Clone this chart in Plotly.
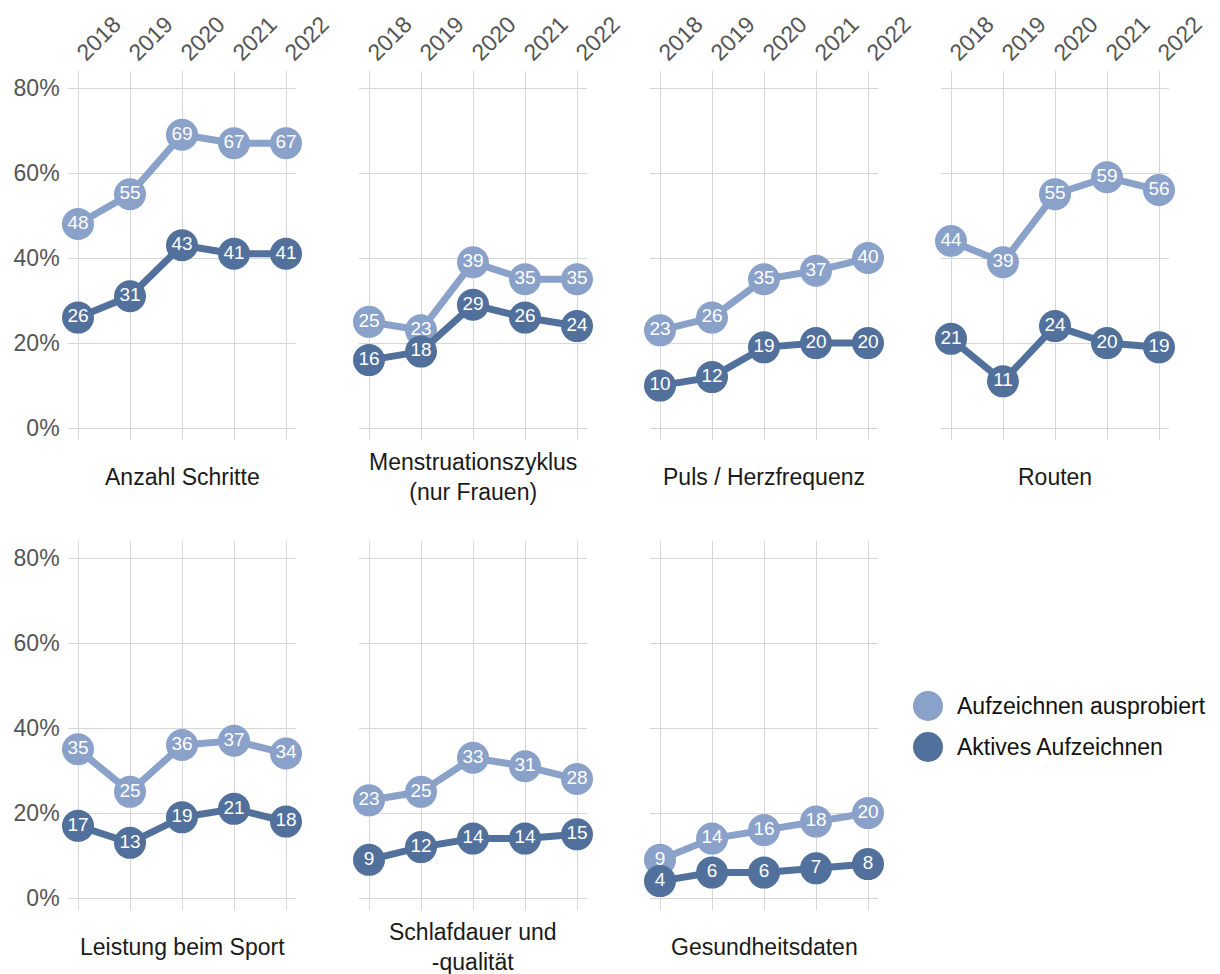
import plotly.graph_objects as go

years = [2018, 2019, 2020, 2021, 2022]
year_labels = ["2018", "2019", "2020", "2021", "2022"]

panel_titles = [
    "Anzahl Schritte",
    "Menstruationszyklus<br>(nur Frauen)",
    "Puls / Herzfrequenz",
    "Routen",
    "Leistung beim Sport",
    "Schlafdauer und<br>-qualität",
    "Gesundheitsdaten",
]

# Aufzeichnen ausprobiert (%)
probiert_schritte = [48, 55, 69, 67, 67]
probiert_menstruation = [25, 23, 39, 35, 35]
probiert_puls = [23, 26, 35, 37, 40]
probiert_routen = [44, 39, 55, 59, 56]
probiert_sport = [35, 25, 36, 37, 34]
probiert_schlaf = [23, 25, 33, 31, 28]
probiert_gesundheit = [9, 14, 16, 18, 20]

# Aktives Aufzeichnen (%)
aktiv_schritte = [26, 31, 43, 41, 41]
aktiv_menstruation = [16, 18, 29, 26, 24]
aktiv_puls = [10, 12, 19, 20, 20]
aktiv_routen = [21, 11, 24, 20, 19]
aktiv_sport = [17, 13, 19, 21, 18]
aktiv_schlaf = [9, 12, 14, 14, 15]
aktiv_gesundheit = [4, 6, 6, 7, 8]

probiert = [probiert_schritte, probiert_menstruation, probiert_puls, probiert_routen,
            probiert_sport, probiert_schlaf, probiert_gesundheit]
aktiv = [aktiv_schritte, aktiv_menstruation, aktiv_puls, aktiv_routen,
         aktiv_sport, aktiv_schlaf, aktiv_gesundheit]

series_names = ["Aufzeichnen ausprobiert", "Aktives Aufzeichnen"]
LIGHT = "#8aa1ca"
DARK = "#52709c"
FONT = "Liberation Sans, Arial, Helvetica, sans-serif"

W, H = 1220, 974
OFF = 8  # page body margin
col_left = [67.6 - OFF, 358.6 - OFF, 649.6 - OFF, 940.6 - OFF]
panel_w = 228.8
row_top = [71 - OFF, 541 - OFF]
panel_h = 369

fig = go.Figure()
layout = {}

for i, title in enumerate(panel_titles):
    r, c = divmod(i, 4)
    n = i + 1
    xa = "x" if n == 1 else f"x{n}"
    ya = "y" if n == 1 else f"y{n}"
    for vals, color in ((probiert[i], LIGHT), (aktiv[i], DARK)):
        fig.add_trace(go.Scatter(
            x=years, y=vals, xaxis=xa, yaxis=ya,
            mode="lines+markers+text",
            line=dict(color=color, width=7),
            marker=dict(color=color, size=32),
            text=[str(v) for v in vals], textposition="middle center",
            textfont=dict(color="white", size=19, family=FONT),
            cliponaxis=False, showlegend=False, hoverinfo="skip",
        ))

    x0 = col_left[c] / W
    x1 = (col_left[c] + panel_w) / W
    y1 = 1 - row_top[r] / H
    y0 = 1 - (row_top[r] + panel_h) / H
    layout[f"xaxis{n}"] = dict(
        domain=[x0, x1], anchor=ya, range=[2017.8, 2022.2],
        tickvals=years, ticktext=year_labels,
        side="top", tickangle=-45, showticklabels=(r == 0),
        showgrid=True, gridcolor="#d6d6d6", gridwidth=1,
        zeroline=False, showline=False, ticks="", automargin=False,
        tickfont=dict(size=23, color="#555555", family=FONT),
        fixedrange=True,
    )
    layout[f"yaxis{n}"] = dict(
        domain=[y0, y1], anchor=xa, range=[-2.8, 84],
        tickvals=[0, 20, 40, 60, 80], ticktext=["0%", "20%", "40%", "60%", "80%"],
        showticklabels=(c == 0), ticklabelstandoff=7,
        showgrid=True, gridcolor="#d6d6d6", gridwidth=1,
        zeroline=False, showline=False, ticks="", automargin=False,
        tickfont=dict(size=23, color="#555555", family=FONT),
        fixedrange=True,
    )

annotations = []
for i, title in enumerate(panel_titles):
    r, c = divmod(i, 4)
    annotations.append(dict(
        text=title, xref="paper", yref="paper",
        x=(col_left[c] + panel_w / 2) / W,
        y=1 - (row_top[r] + panel_h + 37) / H,
        xanchor="center", yanchor="middle", showarrow=False,
        font=dict(size=23, color="#1a1a1a", family=FONT),
    ))

# legend drawn by hand so the circles get the same size as the markers
shapes = []
legend_y = [706 - OFF, 747 - OFF]
legend_x = 928 - OFF
for name, color, ly in zip(series_names, [LIGHT, DARK], legend_y):
    shapes.append(dict(
        type="circle", xref="paper", yref="paper",
        x0=(legend_x - 15) / W, x1=(legend_x + 15) / W,
        y0=1 - (ly + 15) / H, y1=1 - (ly - 15) / H,
        fillcolor=color, line=dict(width=0),
    ))
    annotations.append(dict(
        text=name, xref="paper", yref="paper",
        x=(legend_x + 27) / W, y=1 - ly / H, xanchor="left", yanchor="middle",
        showarrow=False, font=dict(size=23, color="#111111", family=FONT),
    ))

fig.update_layout(
    width=W, height=H,
    margin=dict(l=0, r=0, t=0, b=0, autoexpand=False),
    paper_bgcolor="white", plot_bgcolor="white",
    font=dict(family=FONT),
    annotations=annotations, shapes=shapes,
    **layout,
)

fig.write_html("out.html")
